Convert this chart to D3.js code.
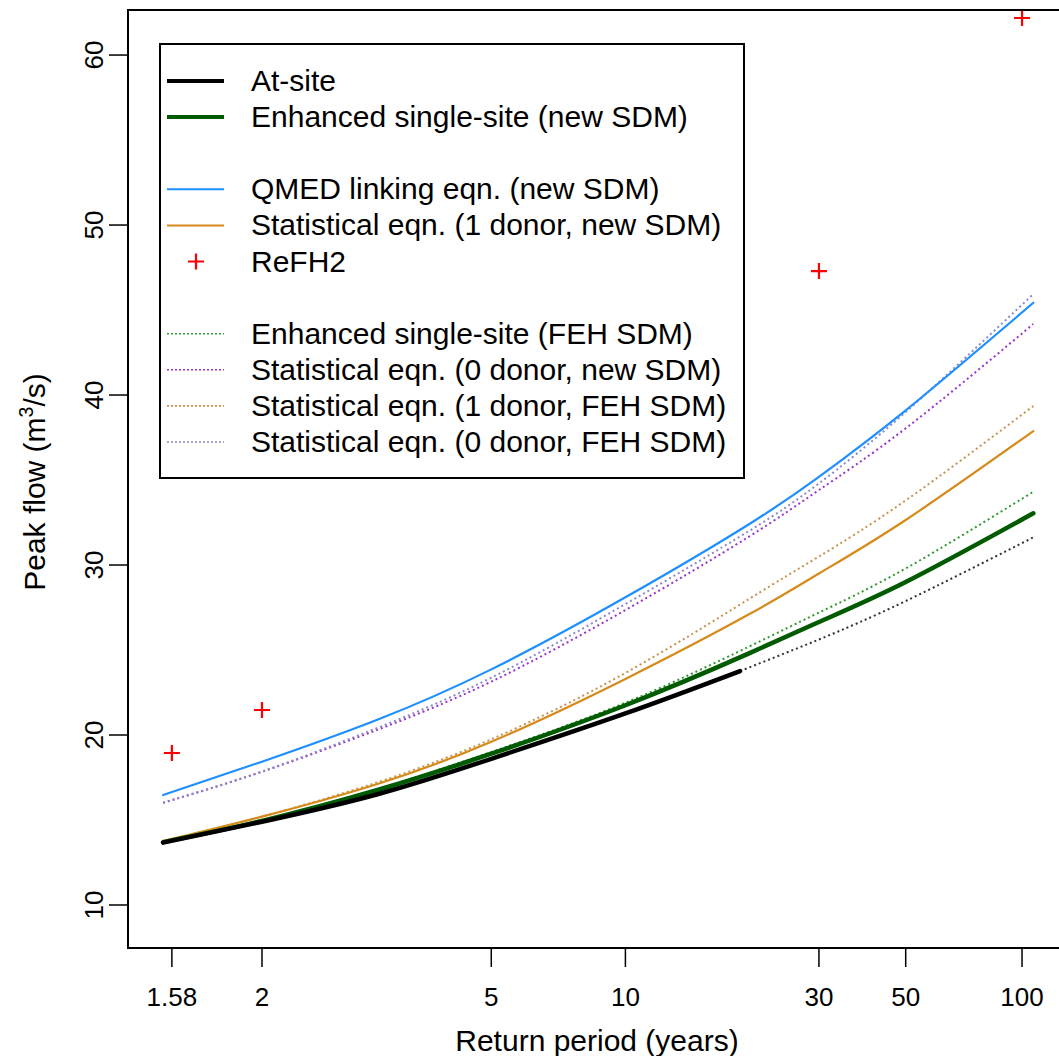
<!DOCTYPE html>
<html>
<head>
<meta charset="utf-8">
<script src="https://cdn.jsdelivr.net/npm/d3@7"></script>
<style>
  body { margin: 0; background: #fff; }
  svg text { font-family: "Liberation Sans", Arial, sans-serif; fill: #000; }
</style>
</head>
<body>
<svg id="chart" width="1059" height="1056"></svg>
<script>
const returnPeriods = [1.55, 2, 3, 5, 10, 20, 30, 50, 107]

// at-site: solid up to ~19 yrs, then dotted extrapolation
const atSiteT = [1.55, 2, 3, 5, 10, 19]
const atSite = [13.67, 14.9, 16.5, 18.6, 21.27, 23.76]
const atSiteExtT = [19, 30, 50, 107]
const atSiteExt = [23.76, 25.62, 27.88, 31.63]

const enhancedNew = [13.7, 14.95, 16.75, 18.9, 21.75, 24.8, 26.65, 29.0, 33.04]
const qmedLinking = [16.47, 18.43, 20.88, 23.86, 28.1, 32.4, 35.19, 39.1, 45.43]
const stat1New = [13.76, 15.2, 17.1, 19.6, 23.3, 27.1, 29.5, 32.65, 37.88]
const enhancedFeh = [13.7, 14.97, 16.8, 19.0, 21.9, 25.2, 27.2, 29.8, 34.31]
const stat0New = [16.02, 17.84, 20.29, 23.14, 27.35, 31.67, 34.41, 38.04, 44.18]
const stat1Feh = [13.76, 15.2, 17.2, 19.75, 23.65, 28.0, 30.5, 33.8, 39.35]
const stat0Feh = [16.0, 17.85, 20.4, 23.37, 27.7, 32.0, 34.8, 39.0, 45.94]

// ReFH2 design flows
const refhT = [1.58, 2, 30, 100]
const refh = [18.94, 21.47, 47.29, 62.18]

// axis ticks
const xTicks = [1.58, 2, 5, 10, 30, 50, 100]
const xTickLabels = ["1.58", "2", "5", "10", "30", "50", "100"]
const yTicks = [10, 20, 30, 40, 50, 60]

const svg = d3.select("#chart")
const margin = {left: 128, top: 10, right: 1067, bottom: 948}
const tickFont = 26
const labFont = 30

// logistic reduced variate: ln(T - 1)
const rv = T => Math.log(T - 1)

const x = d3.scaleLinear().domain([-0.81, 4.867]).range([margin.left, margin.right])
const y = d3.scaleLinear().domain([7.47, 62.65]).range([margin.bottom, margin.top])

const line = d3.line()
    .x(d => x(rv(d[0])))
    .y(d => y(d[1]))
    .curve(d3.curveNatural)

const zip = (ts, vs) => ts.map((t, i) => [t, vs[i]])

// series styling (drawn in this order)
const series = [
    {T: returnPeriods, v: enhancedFeh, color: "#2e9a2e", w: 2, dash: "2,3"},
    {T: returnPeriods, v: stat0New, color: "#9a32cd", w: 2, dash: "2,3"},
    {T: returnPeriods, v: stat1Feh, color: "#c8924a", w: 2, dash: "2,3"},
    {T: returnPeriods, v: stat0Feh, color: "#8d88c8", w: 2, dash: "2,3"},
    {T: atSiteExtT, v: atSiteExt, color: "#333", w: 2, dash: "2,3"},
    {T: returnPeriods, v: qmedLinking, color: "#1e8fff", w: 2.2},
    {T: returnPeriods, v: stat1New, color: "#d68a1a", w: 2.2},
    {T: returnPeriods, v: enhancedNew, color: "#005a00", w: 4.5},
    {T: atSiteT, v: atSite, color: "#000", w: 4.5}
]

svg.selectAll("path.series")
    .data(series)
    .enter()
    .append("path")
    .attr("class", "series")
    .attr("fill", "none")
    .attr("stroke", d => d.color)
    .attr("stroke-width", d => d.w)
    .attr("stroke-dasharray", d => d.dash || null)
    .attr("stroke-linecap", d => d.dash ? "butt" : "round")
    .attr("d", d => line(zip(d.T, d.v)))

// ReFH2 crosses
svg.selectAll("path.refh")
    .data(zip(refhT, refh))
    .enter()
    .append("path")
    .attr("class", "refh")
    .attr("transform", d => "translate(" + x(rv(d[0])) + "," + y(d[1]) + ")")
    .attr("d", "M-8,0H8M0,-8V8")
    .attr("stroke", "#ff0000")
    .attr("stroke-width", 2.2)

// plot box
svg.append("rect")
    .attr("x", margin.left).attr("y", margin.top)
    .attr("width", margin.right - margin.left)
    .attr("height", margin.bottom - margin.top)
    .attr("fill", "none").attr("stroke", "#000").attr("stroke-width", 2)

// x axis
const xAxis = svg.append("g")
xAxis.selectAll("line")
    .data(xTicks)
    .enter().append("line")
    .attr("x1", d => x(rv(d))).attr("x2", d => x(rv(d)))
    .attr("y1", margin.bottom).attr("y2", margin.bottom + 19)
    .attr("stroke", "#000").attr("stroke-width", 1.5)
xAxis.selectAll("text")
    .data(xTicks)
    .enter().append("text")
    .attr("x", d => x(rv(d)))
    .attr("y", 1006)
    .attr("text-anchor", "middle")
    .attr("font-size", tickFont)
    .text((d, i) => xTickLabels[i])

svg.append("text")
    .attr("x", 597).attr("y", 1051)
    .attr("text-anchor", "middle")
    .attr("font-size", labFont)
    .text("Return period (years)")

// y axis
const yAxis = svg.append("g")
yAxis.selectAll("line")
    .data(yTicks)
    .enter().append("line")
    .attr("x1", margin.left - 19).attr("x2", margin.left)
    .attr("y1", d => y(d)).attr("y2", d => y(d))
    .attr("stroke", "#000").attr("stroke-width", 1.5)
yAxis.selectAll("text")
    .data(yTicks)
    .enter().append("text")
    .attr("transform", d => "translate(103," + y(d) + ") rotate(-90)")
    .attr("text-anchor", "middle")
    .attr("font-size", tickFont)
    .text(d => d)

const yTitle = svg.append("text")
    .attr("transform", "translate(45,482) rotate(-90)")
    .attr("text-anchor", "middle")
    .attr("font-size", labFont)
yTitle.append("tspan").text("Peak flow (m")
yTitle.append("tspan").attr("font-size", labFont * 0.65).attr("dy", -12).text("3")
yTitle.append("tspan").attr("dy", 12).text("/s)")

// legend
const legendLabels = [
    "At-site",
    "Enhanced single-site (new SDM)",
    null,
    "QMED linking eqn. (new SDM)",
    "Statistical eqn. (1 donor, new SDM)",
    "ReFH2",
    null,
    "Enhanced single-site (FEH SDM)",
    "Statistical eqn. (0 donor, new SDM)",
    "Statistical eqn. (1 donor, FEH SDM)",
    "Statistical eqn. (0 donor, FEH SDM)"
]
const legendStyle = [
    {color: "#000", w: 4},
    {color: "#005a00", w: 4},
    null,
    {color: "#1e8fff", w: 2},
    {color: "#d68a1a", w: 2},
    {cross: true},
    null,
    {color: "#2e9a2e", w: 1.6, dash: "2,2"},
    {color: "#9a32cd", w: 1.6, dash: "2,2"},
    {color: "#c8924a", w: 1.6, dash: "2,2"},
    {color: "#8d88c8", w: 1.6, dash: "2,2"}
]

const legend = svg.append("g")
legend.append("rect")
    .attr("x", 160).attr("y", 44).attr("width", 584).attr("height", 434)
    .attr("fill", "#fff").attr("stroke", "#000").attr("stroke-width", 2)

const rowY = i => 81 + i * 36.1

legendLabels.forEach((lab, i) => {
    if (!lab) return
    const st = legendStyle[i]
    if (st.cross) {
        legend.append("path")
            .attr("transform", "translate(196," + rowY(i) + ")")
            .attr("d", "M-8,0H8M0,-8V8")
            .attr("stroke", "#ff0000").attr("stroke-width", 2.2)
    } else {
        legend.append("line")
            .attr("x1", 167).attr("x2", 224)
            .attr("y1", rowY(i)).attr("y2", rowY(i))
            .attr("stroke", st.color).attr("stroke-width", st.w)
            .attr("stroke-dasharray", st.dash || null)
    }
    legend.append("text")
        .attr("x", 251).attr("y", rowY(i) + 10)
        .attr("font-size", labFont)
        .text(lab)
})
</script>
</body>
</html>
